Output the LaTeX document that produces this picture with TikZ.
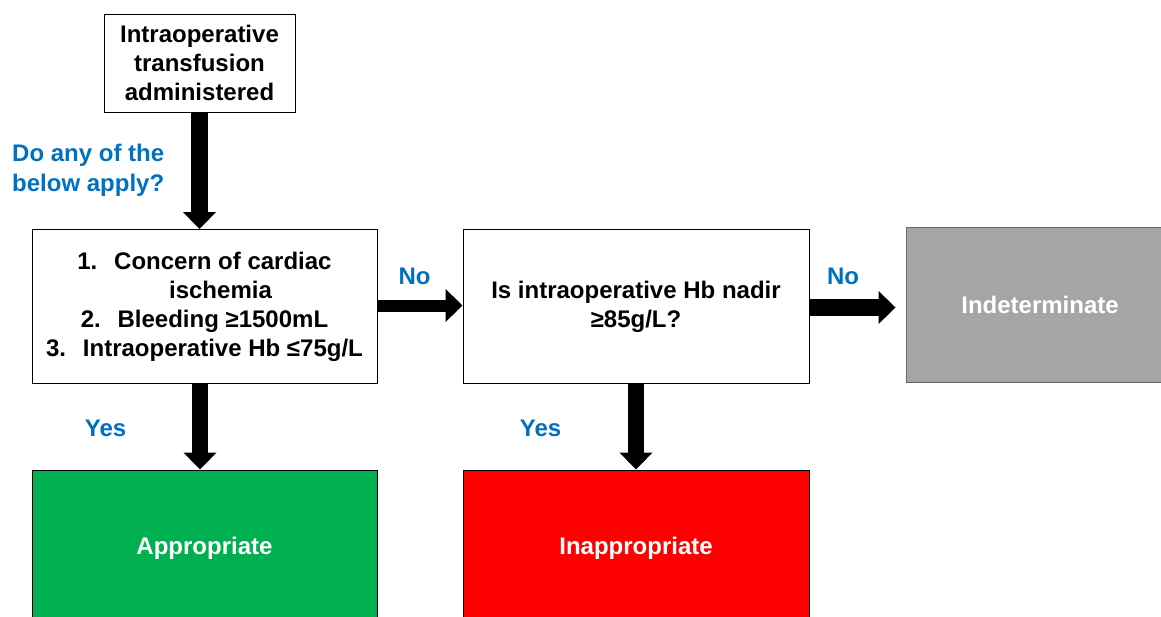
\documentclass[tikz,border=0pt]{standalone}
\usepackage{fontspec}
\setmainfont{Liberation Sans}
\usepackage{xcolor}
\usetikzlibrary{arrows.meta}

\definecolor{lblblue}{RGB}{0,112,192}
\definecolor{okgreen}{RGB}{0,176,80}
\definecolor{badred}{RGB}{255,0,0}
\definecolor{midgrey}{RGB}{165,165,165}

\begin{document}
\begin{tikzpicture}[
x=1pt,
y=-1pt,
every node/.style={font=\fontsize{24}{29}\selectfont\bfseries},
stepbox/.style={rectangle,draw=black,line width=0.9pt,fill=white,align=center,inner sep=0pt},
endbox/.style={rectangle,draw=black,line width=0.9pt,text=white,align=center,inner sep=0pt},
blockarr/.style={-{Triangle[width=32pt,length=17pt]},line width=17pt,black},
lbl/.style={text=lblblue,inner sep=0pt}
]
\useasboundingbox (0,0) rectangle (1161,616);
\clip (0,0) rectangle (1161,616);
\fill[white] (0,0) rectangle (1161,616);

\node[stepbox,minimum width=191pt,minimum height=98pt] (given) at (199.5,63) {Intraoperative\\transfusion\\administered};
\node[stepbox,minimum width=345pt,minimum height=154pt] (crit) at (204.5,306.5) {1.\hspace{0.7em}Concern of cardiac\\\hspace*{32pt}ischemia\\2.\hspace{0.7em}Bleeding ≥1500mL\\3.\hspace{0.7em}Intraoperative Hb ≤75g/L};
\node[stepbox,minimum width=346pt,minimum height=154pt] (nadir) at (636,306.5) {Is intraoperative Hb nadir\\≥85g/L?};
\node[endbox,fill=midgrey,draw=black!60,minimum width=268pt,minimum height=155pt] (indet) at (1040,304.5) {Indeterminate};
\node[endbox,fill=okgreen,minimum width=345pt,minimum height=156pt] (appr) at (204.5,548) {Appropriate};
\node[endbox,fill=badred,minimum width=346pt,minimum height=156pt] (inappr) at (636,548) {Inappropriate};

\node[lbl,anchor=west,align=left,font=\fontsize{24}{30}\selectfont\bfseries] (ask) at (12,170) {Do any of the\\below apply?};
\node[lbl] (no1) at (414.5,276) {No};
\node[lbl] (no2) at (843,276) {No};
\node[lbl] (yes1) at (105.5,428) {Yes};
\node[lbl] (yes2) at (540.5,428) {Yes};

\draw[blockarr] (given.south) -- (given.south |- crit.north);
\draw[blockarr,line width=16pt] ([xshift=-4.5pt]crit.south) -- ([xshift=-4.5pt]appr.north);
\draw[blockarr,line width=12pt] ([yshift=1pt]crit.east) -- ([yshift=1pt]nadir.west);
\draw[blockarr,line width=16pt] (nadir.south) -- (inappr.north);
\draw[blockarr,shorten >=10pt] ([yshift=-1pt]nadir.east) -- ([yshift=-1pt]nadir.east -| indet.west);
\end{tikzpicture}
\end{document}
